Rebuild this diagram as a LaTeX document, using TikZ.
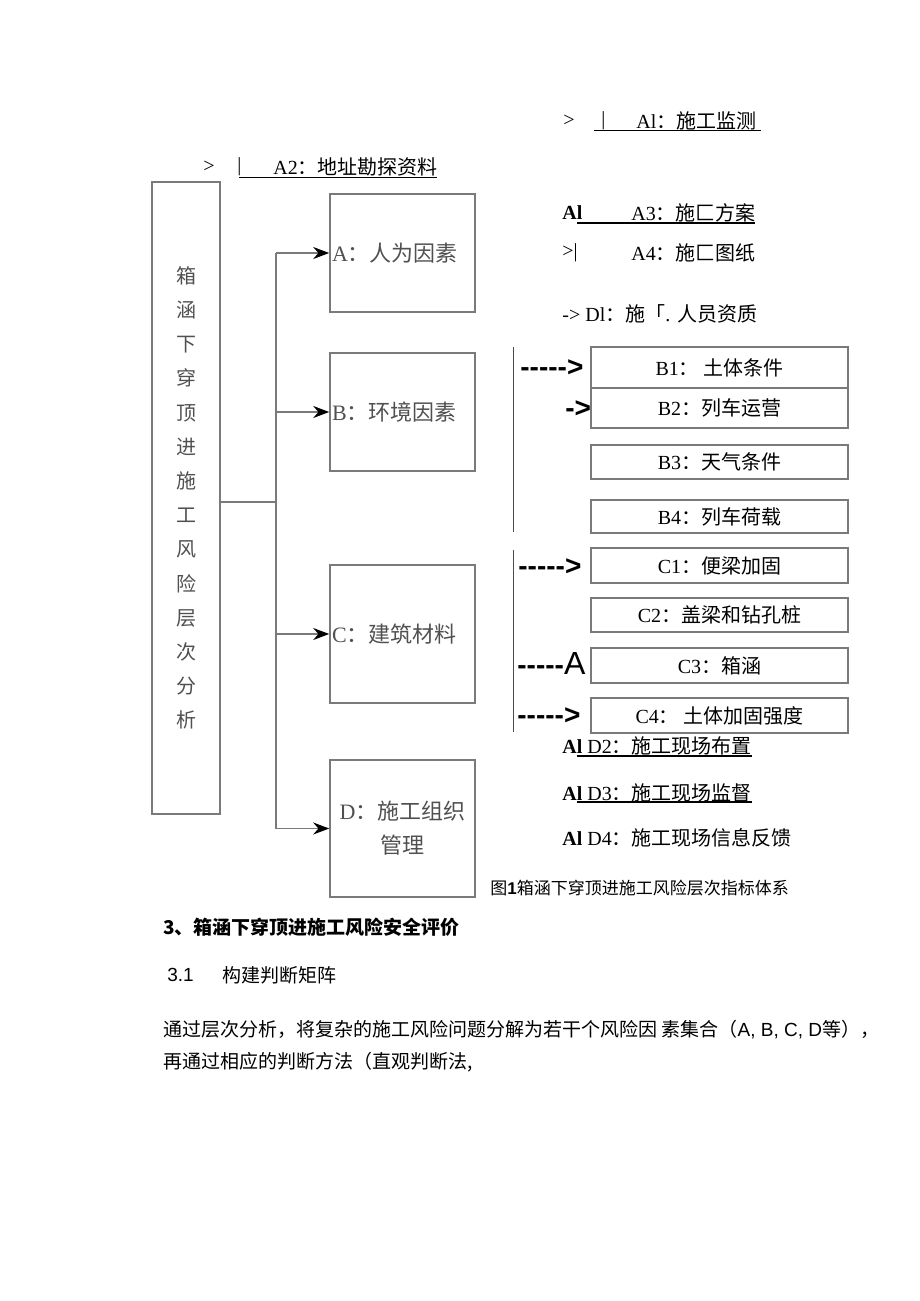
\documentclass[tikz,border=0pt]{standalone}
\usepackage{fontspec}
\setmainfont{Liberation Serif}
\setsansfont{Liberation Sans}
\newfontfamily\cjk{Noto Sans CJK SC}
\usetikzlibrary{arrows.meta}
\usetikzlibrary{positioning}
\newcommand{\zh}[1]{{\cjk #1}}
\newcommand{\fivedash}{-{}-{}-{}-{}-}
\definecolor{boxgray}{HTML}{7A7A7A}
\definecolor{labelgray}{HTML}{505050}

\tikzset{
  factor/.style={draw=boxgray, line width=0.8pt, minimum width=72.5pt, minimum height=59pt,
    inner sep=1pt, font=\fontsize{11}{17}\selectfont, text=labelgray},
  item/.style={draw=boxgray, line width=0.6pt, minimum width=128.5pt, inner sep=0pt,
    font=\fontsize{10}{12}\selectfont},
  note/.style={anchor=west, inner sep=0pt, font=\fontsize{10}{12}\selectfont},
  dashtext/.style={anchor=west, inner sep=0pt, font=\sffamily\bfseries\fontsize{14}{14}\selectfont},
  bodytext/.style={anchor=west, inner sep=0pt, font=\cjk\fontsize{9.5}{11}\selectfont},
  conn/.style={draw=boxgray, line width=0.8pt}
}

\begin{document}
\begin{tikzpicture}[x=0.5pt, y=-0.5pt, >={Stealth[length=8pt,width=6pt,color=black]}]
  \useasboundingbox (0,0) rectangle (920,1301);
  % left box
  \node[draw=boxgray, line width=0.8pt, minimum width=34pt, minimum height=316pt, align=center,
    text=labelgray, font=\cjk\fontsize{10}{17.1}\selectfont] (main) at (186,498)
    {箱\\涵\\下\\穿\\顶\\进\\施\\工\\风\\险\\层\\次\\分\\析};
  % first level
  \node[factor, text width=70.5pt, align=left] (A) at (402.5,253) {A\zh{：人为因素}};
  \node[factor, text width=70.5pt, align=left] (B) at (402.5,412) {B\zh{：环境因素}};
  \node[factor, text width=70.5pt, align=left, minimum height=69pt] (C) at (402.5,634) {C\zh{：建筑材料}};
  \node[factor, align=center, minimum height=68.5pt] (D) at (402.5,828.5) {D\zh{：施工组织}\\\zh{管理}};
  \coordinate (trunk) at (276,502);
  \draw[conn] (main.east |- trunk) -- (trunk);
  \draw[conn] (trunk |- A.west) -- (trunk |- D.west);
  \foreach \f in {A,B,C,D}
    \draw[conn,->] (trunk |- \f.west) -- (\f.west);

  % second level boxes
  \node[item, minimum height=20.5pt] (B1) at (719.5,367.5) {B1\zh{： 土体条件}};
  \node[item, minimum height=20pt] (B2) at (719.5,408) {B2\zh{：列车运营}};
  \node[item, minimum height=17pt] (B3) at (719.5,462) {B3\zh{：天气条件}};
  \node[item, minimum height=16.5pt] (B4) at (719.5,516.5) {B4\zh{：列车荷载}};
  \node[item, minimum height=17.5pt] (C1) at (719.5,565.5) {C1\zh{：便梁加固}};
  \node[item, minimum height=17pt] (C2) at (719.5,615) {C2\zh{：盖梁和钻孔桩}};
  \node[item, minimum height=17.5pt] (C3) at (719.5,665.5) {C3\zh{：箱涵}};
  \node[item, minimum height=17.5pt] (C4) at (719.5,715.5) {C4\zh{： 土体加固强度}};
  \draw[line width=0.5pt, black!70] (513,347) -- (513,532);
  \draw[line width=0.5pt, black!70] (513,550) -- (513,732);
  \node[dashtext] (dB1) at (520,368) {\fivedash>};
  \node[dashtext] (dB2) at (565,409) {->};
  \node[dashtext] (dC1) at (518,567) {\fivedash>};
  \node[dashtext] (dC3) at (517,663) {\fivedash{\mdseries\fontsize{16}{16}\selectfont A}};
  \node[dashtext] (dC4) at (517,716) {\fivedash>};

  % loose items
  \node[note] (gA1) at (563,121) {>};
  \node[note] (bA1) at (601,121) {|};
  \node[note] (A1) at (636,121) {Al\zh{：施工监测}};
  \draw[line width=0.5pt] (594,130) -- (761,130);
  \node[note] (gA2) at (203,167) {>};
  \node[note] (bA2) at (237,167) {|};
  \node[note] (A2) at (273,167) {A2\zh{：地址勘探资料}};
  \draw[line width=0.5pt] (239,177) -- (437,177);
  \node[note] (mA3) at (562,213) {\textbf{Al}};
  \node[note] (A3) at (631,213) {A3\zh{：施匚方案}};
  \draw[line width=0.6pt] (577,223) -- (755,223);
  \node[note] (gA4) at (562,253) {>|};
  \node[note] (A4) at (631,253) {A4\zh{：施匚图纸}};
  \node[note] (D1) at (562,314) {-> Dl\zh{：施「}. \zh{人员资质}};
  \node[note] (D2) at (562,746) {\textbf{Al} D2\zh{：施工现场布置}};
  \draw[line width=0.6pt] (577,756) -- (752,756);
  \node[note] (D3) at (562,793) {\textbf{Al} D3\zh{：施工现场监督}};
  \draw[line width=0.6pt] (577,802) -- (752,802);
  \node[note] (D4) at (562,838) {\textbf{Al} D4\zh{：施工现场信息反馈}};

  % caption and body text
  \node[note, font=\fontsize{8.5}{10}\selectfont] (cap) at (490,888)
    {\zh{图}\textsf{\textbf{1}}\zh{箱涵下穿顶进施工风险层次指标体系}};
  \node[bodytext, font=\cjk\bfseries\fontsize{9.5}{11}\selectfont] (sec) at (163,927) {3、箱涵下穿顶进施工风险安全评价};
  \node[bodytext, font=\sffamily\fontsize{9.5}{11}\selectfont] (subnum) at (167,975) {3.1};
  \node[bodytext] (sub) at (222,975) {构建判断矩阵};
  \node[bodytext] (par1) at (163,1030) {通过层次分析，将复杂的施工风险问题分解为若干个风险因 素集合（{\sffamily A, B, C, D}等），};
  \node[bodytext] (par2) at (163,1062) {再通过相应的判断方法（直观判断法,};
\end{tikzpicture}
\end{document}
